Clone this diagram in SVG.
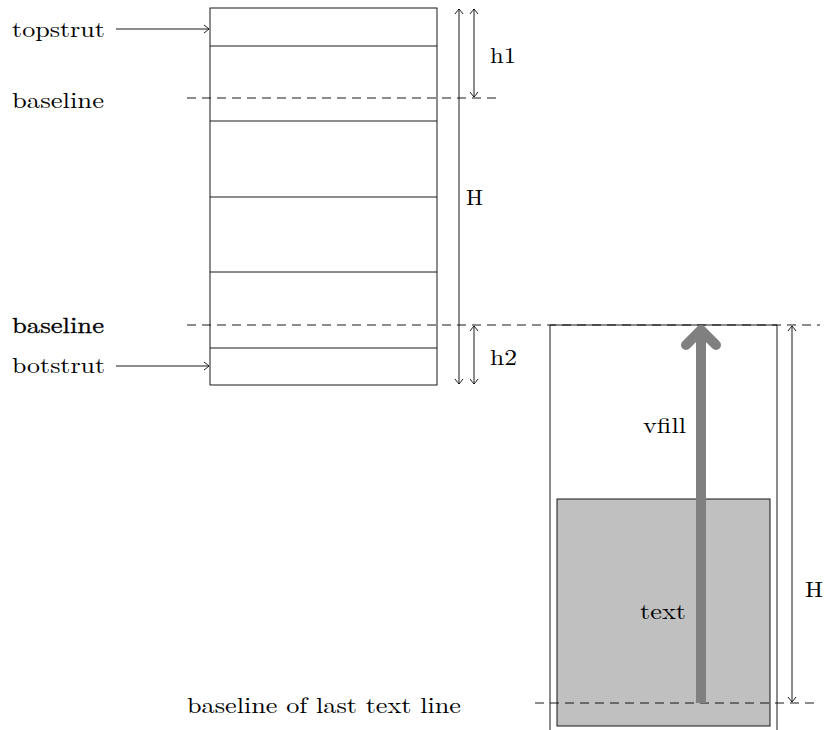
<svg xmlns="http://www.w3.org/2000/svg" width="827" height="730" viewBox="0 0 827 730">
<defs>
<marker id="to" viewBox="-6 -5 8 10" markerWidth="8" markerHeight="10" refX="0" refY="0" orient="auto-start-reverse" markerUnits="userSpaceOnUse">
<path d="M-5,-4 Q-1,-1 0,0 Q-1,1 -5,4" fill="none" stroke="#000" stroke-width="0.9"/>
</marker>
</defs>
<style>
text{font-family:"Latin Modern Roman","Liberation Serif","DejaVu Serif",serif;font-size:22px;fill:#000}
.box{fill:none;stroke:#000;stroke-width:0.9}
.dash{stroke:#000;stroke-width:0.9;stroke-dasharray:9,6;fill:none}
.arr{stroke:#000;stroke-width:0.9;fill:none}
</style>
<rect width="827" height="730" fill="#fff"/>
<g id="left-stack">
<rect class="box" x="210" y="8" width="227" height="377"/>
<line class="box" x1="210" y1="46" x2="437" y2="46"/>
<line class="box" x1="210" y1="121" x2="437" y2="121"/>
<line class="box" x1="210" y1="197" x2="437" y2="197"/>
<line class="box" x1="210" y1="272" x2="437" y2="272"/>
<line class="box" x1="210" y1="348" x2="437" y2="348"/>
</g>
<g id="right-box">
<line class="box" x1="550" y1="325" x2="550" y2="730"/>
<line class="box" x1="777" y1="325" x2="777" y2="730"/>
<line class="box" x1="550" y1="325" x2="777" y2="325"/>
<rect x="557" y="499" width="213" height="227" fill="#c0c0c0" stroke="#000" stroke-width="0.9"/>
</g>
<g id="labels">
<text x="12" y="37" textLength="93" lengthAdjust="spacingAndGlyphs">topstrut</text>
<text x="12" y="108" textLength="92" lengthAdjust="spacingAndGlyphs">baseline</text>
<text x="12" y="333" textLength="92" lengthAdjust="spacingAndGlyphs" stroke="#000" stroke-width="0.3">baseline</text>
<text x="12" y="373" textLength="93" lengthAdjust="spacingAndGlyphs">botstrut</text>
<text x="490" y="63" textLength="26" lengthAdjust="spacingAndGlyphs">h1</text>
<text x="466" y="205" textLength="17" lengthAdjust="spacingAndGlyphs">H</text>
<text x="490" y="365" textLength="27" lengthAdjust="spacingAndGlyphs">h2</text>
<text x="643" y="433" textLength="43" lengthAdjust="spacingAndGlyphs">vfill</text>
<text x="640" y="619" textLength="46" lengthAdjust="spacingAndGlyphs">text</text>
<text x="805" y="597" textLength="18" lengthAdjust="spacingAndGlyphs">H</text>
<text x="187" y="713" textLength="274" lengthAdjust="spacingAndGlyphs">baseline of last text line</text>
</g>
<g id="connectors">
<line class="dash" x1="187" y1="98" x2="497" y2="98"/>
<line class="dash" x1="187" y1="325" x2="820" y2="325"/>
<line class="dash" x1="535" y1="703" x2="820" y2="703"/>
<line class="arr" x1="116" y1="29" x2="209" y2="29" marker-end="url(#to)"/>
<line class="arr" x1="116" y1="366" x2="209" y2="366" marker-end="url(#to)"/>
<line class="arr" x1="459" y1="9" x2="459" y2="384" marker-start="url(#to)" marker-end="url(#to)"/>
<line class="arr" x1="474" y1="9" x2="474" y2="97" marker-start="url(#to)" marker-end="url(#to)"/>
<line class="arr" x1="474" y1="326" x2="474" y2="384" marker-start="url(#to)" marker-end="url(#to)"/>
<line class="arr" x1="792" y1="326" x2="792" y2="702" marker-start="url(#to)" marker-end="url(#to)"/>
<line x1="701" y1="703" x2="701" y2="332" stroke="#808080" stroke-width="10"/>
<path d="M686,345 L701,330 L716,345" fill="none" stroke="#808080" stroke-width="10" stroke-linecap="round" stroke-linejoin="round"/>
</g>
</svg>
